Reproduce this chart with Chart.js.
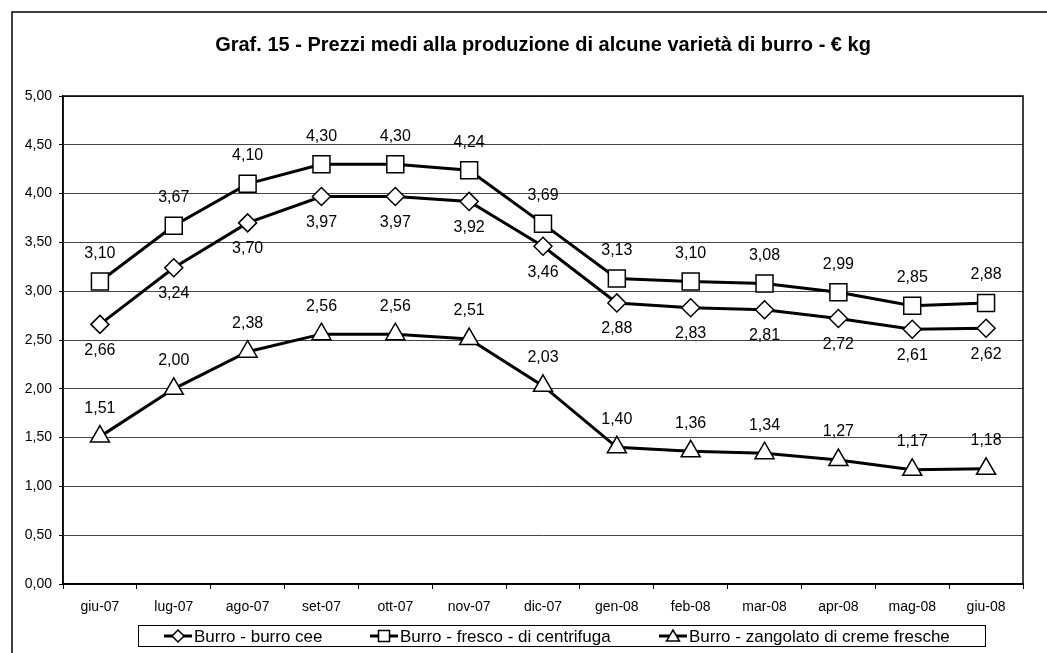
<!DOCTYPE html>
<html>
<head>
<meta charset="utf-8">
<script src="https://cdn.jsdelivr.net/npm/chart.js@4"></script>
<style>
  html, body { margin: 0; padding: 0; background: #fff; }
  #wrap { width: 1047px; height: 653px; position: relative; }
</style>
</head>
<body>
<div id="wrap"><canvas id="chart" width="1047" height="653"></canvas></div>
<script>
// --------------------------------------------------------------------------
// Data
// --------------------------------------------------------------------------
const months = ['giu-07', 'lug-07', 'ago-07', 'set-07', 'ott-07', 'nov-07', 'dic-07',
                'gen-08', 'feb-08', 'mar-08', 'apr-08', 'mag-08', 'giu-08'];
const burroCee = [2.66, 3.24, 3.70, 3.97, 3.97, 3.92, 3.46, 2.88, 2.83, 2.81, 2.72, 2.61, 2.62];
const burroFresco = [3.10, 3.67, 4.10, 4.30, 4.30, 4.24, 3.69, 3.13, 3.10, 3.08, 2.99, 2.85, 2.88];
const burroZangolato = [1.51, 2.00, 2.38, 2.56, 2.56, 2.51, 2.03, 1.40, 1.36, 1.34, 1.27, 1.17, 1.18];
const yTicks = [0, 0.5, 1, 1.5, 2, 2.5, 3, 3.5, 4, 4.5, 5];
const titleText = 'Graf. 15 - Prezzi medi alla produzione di alcune varietà di burro - € kg';

const FONT = "'Liberation Sans', Arial, sans-serif";
const fmt = v => v.toFixed(2).replace('.', ',');

// where each series puts its value labels
const labelPos = ['below', 'above', 'above'];

// draw a marker by hand for the legend
function drawMarker(ctx, style, x, y) {
    ctx.save();
    ctx.fillStyle = '#fff';
    ctx.strokeStyle = '#000';
    ctx.lineWidth = 1.5;
    ctx.beginPath();
    if (style === 'rectRot') {
        ctx.moveTo(x, y - 6); ctx.lineTo(x + 6, y); ctx.lineTo(x, y + 6); ctx.lineTo(x - 6, y);
    } else if (style === 'rect') {
        ctx.rect(x - 5.5, y - 5.5, 11, 11);
    } else {
        ctx.moveTo(x, y - 6); ctx.lineTo(x + 6.5, y + 5); ctx.lineTo(x - 6.5, y + 5);
    }
    ctx.closePath();
    ctx.fill();
    ctx.stroke();
    ctx.restore();
}

const decorPlugin = {
    id: 'decor',
    afterDatasetsDraw(chart) {
        const ctx = chart.ctx;
        const area = chart.chartArea;

        // plot frame
        ctx.save();
        ctx.strokeStyle = '#000';
        ctx.lineWidth = 1.5;
        ctx.strokeRect(area.left, area.top, area.right - area.left, area.bottom - area.top);

        // value labels
        ctx.font = '16px ' + FONT;
        ctx.fillStyle = '#000';
        ctx.textAlign = 'center';
        ctx.textBaseline = 'middle';
        chart.data.datasets.forEach((ds, i) => {
            const meta = chart.getDatasetMeta(i);
            meta.data.forEach((pt, j) => {
                const dy = labelPos[i] === 'above' ? -28 : 26;
                ctx.fillText(fmt(ds.data[j]), pt.x, pt.y + dy);
            });
        });
        ctx.restore();
    },
    afterDraw(chart) {
        const ctx = chart.ctx;
        ctx.save();

        // outer chart frame (top and left edges visible in the scan)
        ctx.strokeStyle = '#000';
        ctx.lineWidth = 1.5;
        ctx.beginPath();
        ctx.moveTo(12, 653); ctx.lineTo(12, 12); ctx.lineTo(1047, 12);
        ctx.stroke();

        // title
        ctx.font = 'bold 20px ' + FONT;
        ctx.fillStyle = '#000';
        ctx.textAlign = 'center';
        ctx.textBaseline = 'middle';
        ctx.fillText(titleText, 543, 45);

        // legend box
        ctx.lineWidth = 1;
        ctx.strokeRect(138.5, 625.5, 847, 21);
        const items = [
            { x: 178, text: 'Burro - burro cee' },
            { x: 384, text: 'Burro - fresco - di centrifuga' },
            { x: 673, text: 'Burro - zangolato di creme fresche' }
        ];
        ctx.font = '17px ' + FONT;
        ctx.textAlign = 'left';
        chart.data.datasets.forEach((ds, i) => {
            const it = items[i];
            const y = 636;
            ctx.lineWidth = 3;
            ctx.beginPath();
            ctx.moveTo(it.x - 14, y); ctx.lineTo(it.x + 14, y);
            ctx.stroke();
            drawMarker(ctx, ds.pointStyle, it.x, y);
            ctx.fillStyle = '#000';
            ctx.fillText(it.text, it.x + 16, y + 1);
        });
        ctx.restore();
    }
};

function makeSeries(label, data, style, radius) {
    return {
        label: label,
        data: data,
        borderColor: '#000',
        borderWidth: 3,
        pointStyle: style,
        pointRadius: radius,
        pointBackgroundColor: '#fff',
        pointBorderColor: '#000',
        pointBorderWidth: 1.5,
        tension: 0
    };
}

new Chart(document.getElementById('chart').getContext('2d'), {
    type: 'line',
    data: {
        labels: months,
        datasets: [
            makeSeries('Burro - burro cee', burroCee, 'rectRot', 9),
            makeSeries('Burro - fresco - di centrifuga', burroFresco, 'rect', 12),
            makeSeries('Burro - zangolato di creme fresche', burroZangolato, 'triangle', 11)
        ]
    },
    options: {
        responsive: false,
        animation: false,
        layout: { padding: { left: 0, right: 24, top: 96, bottom: 0 } },
        plugins: {
            legend: { display: false },
            title: { display: false },
            tooltip: { enabled: false }
        },
        scales: {
            x: {
                offset: true,
                grid: {
                    offset: true,
                    drawOnChartArea: false,
                    drawTicks: true,
                    tickLength: 5,
                    tickColor: '#000'
                },
                border: { display: true, color: '#000', width: 1.5 },
                ticks: {
                    color: '#000',
                    font: { family: FONT, size: 14 },
                    padding: 10,
                    maxRotation: 0,
                    autoSkip: false
                },
                afterFit(scale) { scale.height = 69; }
            },
            y: {
                min: 0,
                max: 5,
                afterBuildTicks(scale) { scale.ticks = yTicks.map(v => ({ value: v })); },
                grid: {
                    color: '#444',
                    lineWidth: 1,
                    tickLength: 4,
                    tickColor: '#000'
                },
                border: { display: true, color: '#000', width: 1.5 },
                ticks: {
                    color: '#000',
                    font: { family: FONT, size: 14 },
                    padding: 7,
                    callback: v => fmt(v)
                },
                afterFit(scale) { scale.width = 63; }
            }
        }
    },
    plugins: [decorPlugin]
});
</script>
</body>
</html>
